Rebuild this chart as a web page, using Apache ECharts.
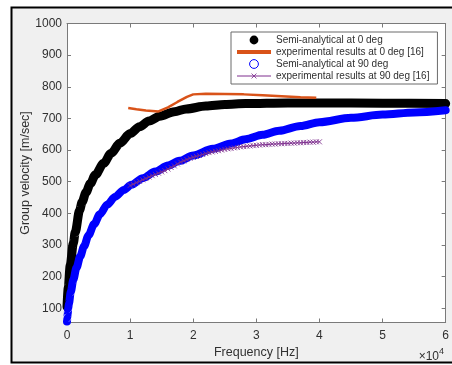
<!DOCTYPE html>
<html>
<head>
<meta charset="utf-8">
<script src="https://cdn.jsdelivr.net/npm/echarts@6/dist/echarts.min.js"></script>
<style>
  html, body { margin: 0; padding: 0; background: #ffffff; }
  #chart { width: 452px; height: 365px; }
</style>
</head>
<body>
<div id="chart"></div>
<script>
// Group velocity vs frequency: semi-analytical curves and experimental results [16]
const seriesNames = [
  'Semi-analytical at 0 deg',
  'experimental results at 0 deg [16]',
  'Semi-analytical at 90 deg',
  'experimental results at 90 deg [16]'
];

// [frequency Hz, group velocity m/sec]
const semi0 = [
  [0, 105], [200, 165], [500, 235], [1000, 305], [1300, 340], [2000, 410],
  [2400, 436], [3000, 466], [3700, 494], [4500, 522], [5800, 558], [7000, 590],
  [8400, 622], [10000, 652], [11500, 674], [13000, 692], [14700, 707],
  [17000, 721], [18900, 730], [22000, 739], [25000, 744], [28300, 747],
  [35000, 749], [40000, 749], [50000, 748], [60000, 747]
];

const exp0 = [
  [9700, 733], [11000, 729], [12500, 725], [14500, 722], [16000, 735],
  [17500, 752], [19000, 768], [20000, 776], [22000, 778], [25000, 777],
  [28000, 776], [31000, 773], [34000, 770], [37000, 767], [39500, 765]
];

const semi90 = [
  [0, 58], [50, 70], [100, 82], [200, 100], [300, 114], [600, 152], [1000, 190],
  [1500, 228], [2100, 264], [2700, 296], [3400, 330], [4300, 366], [5200, 397],
  [6400, 428], [7600, 452], [9000, 474], [10200, 490], [12000, 511],
  [14000, 532], [16000, 551], [17800, 566], [20000, 583], [23100, 604],
  [26000, 621], [28300, 634], [31000, 648], [33600, 661], [37000, 676],
  [40000, 688], [45000, 702], [50000, 712], [55000, 719], [60000, 726]
];

const exp90 = [
  [10000, 488], [10500, 492], [11000, 497], [11500, 501], [12000, 506],
  [12500, 510], [13000, 515], [13500, 519], [14000, 523], [14500, 527],
  [15000, 531], [15500, 535], [16000, 540], [16500, 545], [17000, 550],
  [17500, 556], [18000, 562], [18500, 566], [19000, 570], [19500, 574],
  [20000, 577], [20500, 580], [21000, 583], [21500, 586], [22000, 589],
  [22500, 592], [23000, 594], [23500, 596], [24000, 598], [24500, 600],
  [25000, 602], [25500, 604], [26000, 605], [26500, 607], [27000, 608],
  [27500, 610], [28000, 611], [28500, 612], [29000, 613], [29500, 614],
  [30000, 615], [30500, 616], [31000, 617], [31500, 617], [32000, 618],
  [32500, 619], [33000, 619], [33500, 620], [34000, 620], [34500, 621],
  [35000, 621], [35500, 622], [36000, 622], [36500, 623], [37000, 623],
  [37500, 624], [38000, 624], [38500, 625], [39000, 625], [39500, 626],
  [40000, 626]
];

const xTicks = [0, 10000, 20000, 30000, 40000, 50000, 60000];
const yTicks = [100, 200, 300, 400, 500, 600, 700, 800, 900, 1000];

const FONT = '"Liberation Sans", Arial, Helvetica, sans-serif';
const AX = '#7a7a7a';
const TXT = '#303030';
const C_BLACK = '#000000';
const C_ORANGE = '#D95319';
const C_BLUE = '#0000ff';
const C_PURPLE = '#7E2F8E';
// 'x' marker; the two lone moves pad its box so the cross sits smaller inside it
const X_MARK = 'path://M-4,-4M14,14M0,0L10,10M10,0L0,10';

const chart = echarts.init(document.getElementById('chart'), null, { renderer: 'canvas' });

const xBase = {
  type: 'value', min: 0, max: 60000, interval: 10000,
  axisLine: { show: true, onZero: false, lineStyle: { color: AX, width: 1 } },
  axisTick: { show: true, inside: true, length: 4, customValues: xTicks, lineStyle: { color: AX } },
  splitLine: { show: false }
};
const yBase = {
  type: 'value', min: 55, max: 1000, splitNumber: 9,
  axisLine: { show: true, onZero: false, lineStyle: { color: AX, width: 1 } },
  axisTick: { show: true, inside: true, length: 4, customValues: yTicks, lineStyle: { color: AX } },
  splitLine: { show: false }
};

chart.setOption({
  animation: false,
  backgroundColor: '#ffffff',
  graphic: [
    {
      type: 'rect', z: -100, silent: true,
      shape: { x: 11.5, y: 7.5, width: 460, height: 355 },
      style: { fill: '#f0f0f0', stroke: '#000000', lineWidth: 2 }
    },
    {
      type: 'text', right: 13, top: 351, silent: true,
      style: { text: '\u00d710', font: '12px ' + FONT, fill: TXT }
    },
    {
      type: 'text', left: 439, top: 347, silent: true,
      style: { text: '4', font: '9px ' + FONT, fill: TXT }
    }
  ],
  grid: {
    left: 67, right: 4, top: 23.5, bottom: 42.5,
    show: true, backgroundColor: '#ffffff', borderWidth: 0
  },
  legend: {
    orient: 'vertical', left: 231, top: 32,
    padding: [3, 8, 3, 4],
    itemWidth: 34, itemHeight: 11, itemGap: 2,
    backgroundColor: '#ffffff', borderColor: '#6a6a6a', borderWidth: 1, borderRadius: 0,
    textStyle: { fontFamily: FONT, fontSize: 10, color: TXT, padding: [0, 0, 0, 0] },
    selectedMode: false,
    data: [
      { name: seriesNames[0], lineStyle: { width: 0, opacity: 0 },
        itemStyle: { color: C_BLACK, borderWidth: 0 } },
      { name: seriesNames[1], lineStyle: { width: 4, color: C_ORANGE },
        itemStyle: { opacity: 0 } },
      { name: seriesNames[2], lineStyle: { width: 0, opacity: 0 },
        itemStyle: { color: '#ffffff', borderColor: C_BLUE, borderWidth: 1 } },
      { name: seriesNames[3], lineStyle: { width: 1, color: C_PURPLE },
        itemStyle: { color: C_PURPLE, borderColor: C_PURPLE, borderWidth: 1 } }
    ]
  },
  xAxis: [
    Object.assign({}, xBase, {
      position: 'bottom',
      name: 'Frequency [Hz]', nameLocation: 'middle', nameGap: 24, nameMoveOverlap: false,
      nameTextStyle: { fontFamily: FONT, fontSize: 12.5, color: TXT },
      axisLabel: {
        show: true, margin: 7, fontFamily: FONT, fontSize: 12, color: TXT,
        customValues: xTicks,
        formatter: v => String(v / 10000)
      }
    }),
    Object.assign({}, xBase, { position: 'top', axisLabel: { show: false } })
  ],
  yAxis: [
    Object.assign({}, yBase, {
      position: 'left',
      name: 'Group velocity [m/sec]', nameLocation: 'middle', nameGap: 35, nameRotate: 90,
      nameMoveOverlap: false,
      nameTextStyle: { fontFamily: FONT, fontSize: 12.5, color: TXT },
      axisLabel: {
        show: true, margin: 5, fontFamily: FONT, fontSize: 12, color: TXT,
        customValues: yTicks,
        formatter: v => String(v)
      }
    }),
    Object.assign({}, yBase, { position: 'right', axisLabel: { show: false } })
  ],
  series: [
    {
      name: seriesNames[0], type: 'line', data: semi0, z: 3,
      smooth: 0.3, smoothMonotone: 'x', symbol: 'circle', showSymbol: false,
      lineStyle: { color: C_BLACK, width: 9, cap: 'round', join: 'round' },
      itemStyle: { color: C_BLACK }
    },
    {
      name: seriesNames[1], type: 'line', data: exp0, z: 4,
      symbol: 'circle', showSymbol: false,
      lineStyle: { color: C_ORANGE, width: 2.5 },
      itemStyle: { color: C_ORANGE }
    },
    {
      name: seriesNames[2], type: 'line', data: semi90, z: 3,
      smooth: 0.3, smoothMonotone: 'x', symbol: 'circle', showSymbol: false,
      lineStyle: { color: C_BLUE, width: 8, cap: 'round', join: 'round' },
      itemStyle: { color: C_BLUE }
    },
    {
      name: seriesNames[3], type: 'line', data: exp90, z: 5,
      symbol: X_MARK, symbolSize: 9, showSymbol: true,
      lineStyle: { color: C_PURPLE, width: 1 },
      itemStyle: { color: C_PURPLE, borderColor: C_PURPLE, borderWidth: 1, opacity: 0.85 }
    }
  ]
});
</script>
</body>
</html>
